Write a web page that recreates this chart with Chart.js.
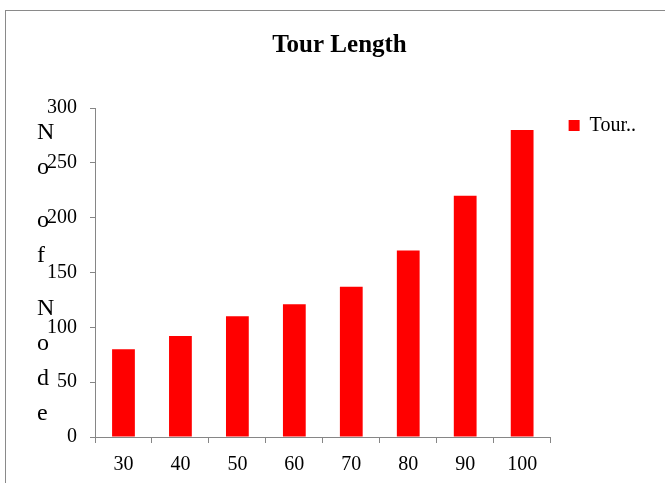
<!DOCTYPE html>
<html>
<head>
<meta charset="utf-8">
<script src="https://cdn.jsdelivr.net/npm/chart.js@4/dist/chart.umd.min.js"></script>
<style>
  html, body { margin: 0; padding: 0; background: #ffffff; }
  #wrap { position: relative; width: 665px; height: 483px; overflow: hidden; }
  #frame { position: absolute; left: 5px; top: 10px; width: 700px; height: 520px; border: 1.5px solid #8a8a8a; box-sizing: border-box; }
  #c { position: absolute; left: 0; top: 0; }
</style>
</head>
<body>
<div id="wrap">
  <div id="frame"></div>
  <canvas id="c" width="665" height="483"></canvas>
</div>
<script>
const chartTitle = "Tour Length";
const categories = ["30", "40", "50", "60", "70", "80", "90", "100"];
const seriesName = "Tour..";
const tourValues = [80, 92, 110, 121, 137, 170, 220, 280];
const yTicks = [0, 50, 100, 150, 200, 250, 300];
const yTitleText = "No of Node";

const SERIF = "'Liberation Serif', 'Times New Roman', serif";
const AXIS_GREY = "#868686";

const yTitlePlugin = {
  id: "stackedYTitle",
  afterDraw(chart) {
    const ctx = chart.ctx;
    ctx.save();
    ctx.font = "24px " + SERIF;
    ctx.fillStyle = "#000000";
    ctx.textAlign = "left";
    ctx.textBaseline = "alphabetic";
    let y = chart.chartArea.top + 31;
    for (const ch of yTitleText) {
      if (ch === " ") { y += 18; continue; }
      ctx.fillText(ch, 37, y);
      y += 35;
    }
    ctx.restore();
  }
};

new Chart(document.getElementById("c"), {
  type: "bar",
  data: {
    labels: categories,
    datasets: [{
      label: seriesName,
      data: tourValues,
      backgroundColor: "#ff0000",
      borderWidth: 0,
      barPercentage: 0.4,
      categoryPercentage: 1.0
    }]
  },
  options: {
    responsive: false,
    animation: false,
    devicePixelRatio: 1,
    layout: { padding: { left: 33, right: 19, top: 0, bottom: 0 } },
    plugins: {
      title: {
        display: true,
        text: chartTitle,
        color: "#000000",
        font: { family: SERIF, size: 25, weight: "bold" },
        padding: { top: 31, bottom: 47 }
      },
      legend: {
        display: true,
        position: "right",
        align: "start",
        title: { display: true, text: "", font: { size: 10 }, padding: { top: 85.5, bottom: 0 } },
        labels: {
          boxWidth: 11,
          boxHeight: 11,
          padding: 18,
          color: "#000000",
          font: { family: SERIF, size: 20 }
        }
      },
      tooltip: { enabled: false }
    },
    scales: {
      x: {
        afterFit(scale) { scale.height = 46; },
        grid: { display: true, drawOnChartArea: false, drawTicks: true, tickLength: 6, color: AXIS_GREY, offset: true },
        border: { display: true, color: AXIS_GREY, width: 1 },
        ticks: { color: "#000000", padding: 10, font: { family: SERIF, size: 20 }, maxRotation: 0 }
      },
      y: {
        min: 0,
        max: 300,
        afterFit(scale) { scale.width = 95 - 33; },
        afterBuildTicks(scale) { scale.ticks = yTicks.map(v => ({ value: v })); },
        grid: { display: true, drawOnChartArea: false, drawTicks: true, tickLength: 5, color: AXIS_GREY },
        border: { display: true, color: AXIS_GREY, width: 1 },
        ticks: { color: "#000000", padding: 13, font: { family: SERIF, size: 20 } }
      }
    }
  },
  plugins: [yTitlePlugin]
});
</script>
</body>
</html>
